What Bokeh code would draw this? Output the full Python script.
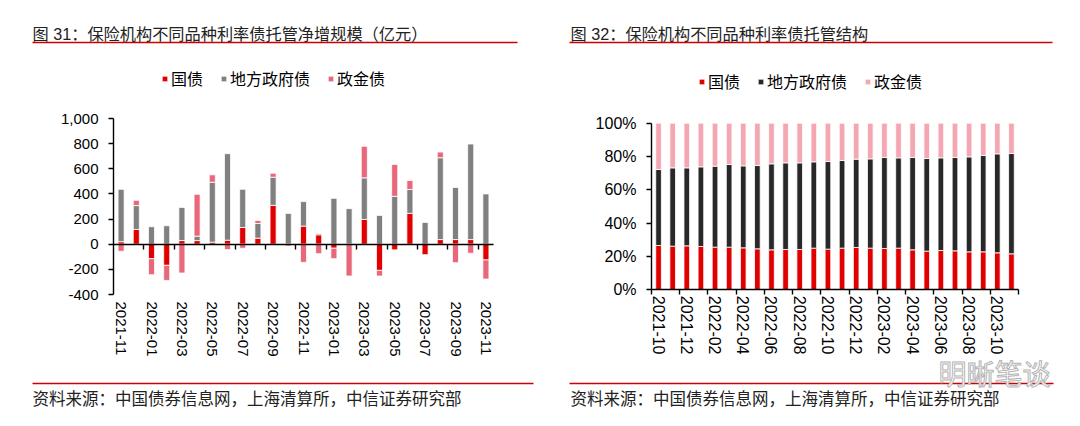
from bokeh.plotting import figure
from bokeh.models import (Range1d, FixedTicker, NumeralTickFormatter, LinearAxis, Label,
                          BoxAnnotation, Legend, LegendItem, ColumnDataSource)
from bokeh.layouts import row
from bokeh.embed import file_html
from bokeh.resources import INLINE

FONT = "Liberation Sans, Noto Sans CJK SC"

# ---------------- data: chart 31 (亿元) ----------------
left_months = ["2021-11", "2021-12", "2022-01", "2022-02", "2022-03", "2022-04", "2022-05",
               "2022-06", "2022-07", "2022-08", "2022-09", "2022-10", "2022-11", "2022-12",
               "2023-01", "2023-02", "2023-03", "2023-04", "2023-05", "2023-06", "2023-07",
               "2023-08", "2023-09", "2023-10", "2023-11"]
net_gov = [20, 117, -115, -168, 29, 29, 16, 32, 133, 48, 309, 0, 144, 75, -32, 0, 197, -208,
           -45, 245, -83, 37, 37, 37, -125]
net_local = [417, 190, 139, 147, 264, 35, 477, 688, 304, 117, 224, 245, 195, 10, 365, 283, 331,
             229, 381, 190, 176, 651, 414, 760, 400]
net_policy = [-56, 42, -128, -120, -229, 333, 59, -43, -32, 24, 32, -15, -144, -75, -83, -253,
              251, -45, 254, 72, 0, 45, -147, -72, -152]
left_ticks = [-400, -200, 0, 200, 400, 600, 800, 1000]

# ---------------- data: chart 32 (%) ----------------
right_months = ["2021-10", "2021-11", "2021-12", "2022-01", "2022-02", "2022-03", "2022-04",
                "2022-05", "2022-06", "2022-07", "2022-08", "2022-09", "2022-10", "2022-11",
                "2022-12", "2023-01", "2023-02", "2023-03", "2023-04", "2023-05", "2023-06",
                "2023-07", "2023-08", "2023-09", "2023-10", "2023-11"]
share_gov = [26.6, 26.2, 26.4, 26.0, 25.6, 25.6, 25.2, 24.6, 24.0, 24.2, 24.2, 25.0, 24.4, 25.0,
             25.4, 25.0, 24.8, 25.0, 24.0, 23.2, 23.6, 23.4, 22.8, 22.8, 22.2, 21.6]
share_local = [45.6, 47.0, 46.8, 47.8, 48.6, 49.6, 49.2, 50.0, 51.6, 52.0, 52.0, 51.8, 52.6, 52.6,
               53.0, 53.6, 54.6, 54.2, 55.4, 55.6, 55.6, 56.0, 57.0, 57.8, 59.4, 60.2]
share_policy = [27.8, 26.8, 26.8, 26.2, 25.8, 24.8, 25.6, 25.4, 24.4, 23.8, 23.8, 23.2, 23.0, 22.4,
                21.6, 21.4, 20.6, 20.8, 20.6, 21.2, 20.8, 20.6, 20.2, 19.4, 18.4, 18.2]
right_ticks = [0, 0.2, 0.4, 0.6, 0.8, 1.0]

series_names = ["国债", "地方政府债", "政金债"]
left_colors = ["#E00000", "#808080", "#E8677B"]
right_colors = ["#E00000", "#282828", "#F4A7B2"]

title_left = "图 31：保险机构不同品种利率债托管净增规模（亿元）"
title_right = "图 32：保险机构不同品种利率债托管结构"
source_text = "资料来源：中国债券信息网，上海清算所，中信证券研究部"
watermark = "明晰笔谈"

RED_LINE = "#D00000"
W, H = 540, 410


def make_fig(x_range, y_range):
    p = figure(width=W, height=H, output_backend="svg", toolbar_location=None,
               x_range=x_range, y_range=y_range, x_axis_location=None, y_axis_location=None,
               min_border=0, min_border_left=0, min_border_right=0,
               min_border_top=0, min_border_bottom=0)
    p.outline_line_color = None
    p.grid.visible = False
    p.background_fill_color = "white"
    p.border_fill_color = "white"
    return p


def add_text(p, x, page_y, text, size="16px", color="#222222", align="left", outline=None):
    lab = Label(x=x, y=H - page_y, x_units="screen", y_units="screen", text=text,
                text_font=FONT, text_font_size=size, text_color=color,
                text_baseline="middle", text_align=align)
    if outline is not None:
        lab.text_outline_color = outline
    p.add_layout(lab)


def add_hline(p, left, right, page_y):
    y = H - page_y
    p.add_layout(BoxAnnotation(left=left, right=right, bottom=y - 0.7, top=y + 0.7,
                               left_units="screen", right_units="screen",
                               bottom_units="screen", top_units="screen",
                               fill_color=RED_LINE, fill_alpha=1, line_color=None))


def value_axis(p, loc, ticks, fmt, bounds, size):
    ax = LinearAxis(ticker=FixedTicker(ticks=ticks), formatter=NumeralTickFormatter(format=fmt),
                    fixed_location=loc, bounds=bounds)
    ax.axis_line_color = "black"
    ax.axis_line_width = 1.4
    ax.major_tick_line_color = "black"
    ax.major_tick_line_width = 1.4
    ax.major_tick_out = 5
    ax.major_tick_in = 0
    ax.minor_tick_line_color = None
    ax.major_label_standoff = 10
    ax.major_label_text_font = FONT
    ax.major_label_text_font_size = size
    ax.major_label_text_color = "black"
    p.add_layout(ax, "left")


def label_axis(p, loc, ticks, labels, standoff, size):
    ax = LinearAxis(ticker=FixedTicker(ticks=ticks), fixed_location=loc,
                    major_label_overrides={t: labels[t] for t in ticks})
    ax.axis_line_color = None
    ax.major_tick_line_color = None
    ax.minor_tick_line_color = None
    ax.major_tick_out = 0
    ax.major_tick_in = 0
    ax.major_label_standoff = standoff
    ax.major_label_orientation = "vertical"
    ax.major_label_text_font = FONT
    ax.major_label_text_font_size = size
    ax.major_label_text_color = "black"
    p.add_layout(ax, "below")


def tick_axis(p, loc, ticks, bounds):
    ax = LinearAxis(ticker=FixedTicker(ticks=ticks), fixed_location=loc, bounds=bounds)
    ax.axis_line_color = "black"
    ax.axis_line_width = 1.4
    ax.major_tick_line_color = "black"
    ax.major_tick_line_width = 1.4
    ax.major_tick_out = 5
    ax.major_tick_in = 0
    ax.minor_tick_line_color = None
    ax.major_label_text_color = None
    p.add_layout(ax, "below")


def stack_pos_neg(series_list):
    n = len(series_list[0])
    pos = [0.0] * n
    neg = [0.0] * n
    out = []
    for s in series_list:
        bottoms, tops = [], []
        for i, v in enumerate(s):
            if v >= 0:
                b = pos[i]; t = b + v; pos[i] = t
            else:
                b = neg[i]; t = b + v; neg[i] = t
            bottoms.append(b); tops.append(t)
        out.append((bottoms, tops))
    return out


def legend(p, rends, x, page_bottom, size, spacing):
    lg = Legend(items=[LegendItem(label=n, renderers=[r]) for n, r in zip(series_names, rends)],
                orientation="horizontal", location=(x, H - page_bottom),
                glyph_width=7, glyph_height=7, label_height=16, label_standoff=3,
                spacing=spacing, padding=0, margin=0, border_line_color=None,
                background_fill_alpha=0, label_text_font=FONT, label_text_font_size=size,
                label_text_color="black")
    p.add_layout(lg)


# ================= left figure (page x 0..540, y 0..410) =================
n1 = len(left_months)
PX1 = 380 / n1                    # pixels per category
X0_1 = 113                        # page x of category edge -0.5
YTOP_1, YBOT_1 = 118, 294         # page y of 1000 and -400
upp1 = 1400 / (YBOT_1 - YTOP_1)
p1 = make_fig(Range1d(-0.5 - X0_1 / PX1, -0.5 + (W - X0_1) / PX1),
              Range1d(-400 - (H - YBOT_1) * upp1, 1000 + YTOP_1 * upp1))

xs1 = list(range(n1))
rends1 = []
for (bot, top), col in zip(stack_pos_neg([net_gov, net_local, net_policy]), left_colors):
    src = ColumnDataSource(dict(x=xs1, bottom=bot, top=top))
    rends1.append(p1.vbar(x="x", bottom="bottom", top="top", width=0.4, source=src,
                          fill_color=col, line_color="white", line_width=0.8))

value_axis(p1, -0.5, left_ticks, "0,0", (-400, 1000), "15px")
label_axis(p1, -400, xs1[::2], left_months, 7, "15px")
tick_axis(p1, 0, [i + 1.5 for i in range(0, n1 - 2, 2)], (-0.5, n1 - 0.5))
legend(p1, rends1, 161, 90, "16px", 17)

add_text(p1, 32, 33, title_left, size="16.2px")
add_hline(p1, 32, 517, 42)
add_hline(p1, 32, 533, 383)
add_text(p1, 32, 398, source_text, size="16.5px")

# ================= right figure (page x 540..1080) =================
n2 = len(right_months)
PX2 = 367 / n2
X0_2 = 651 - 540
YTOP_2, YBOT_2 = 122.7, 289.3
upp2 = 1.0 / (YBOT_2 - YTOP_2)
p2 = make_fig(Range1d(-0.5 - X0_2 / PX2, -0.5 + (W - X0_2) / PX2),
              Range1d(-(H - YBOT_2) * upp2, 1 + YTOP_2 * upp2))

xs2 = list(range(n2))
src2 = ColumnDataSource(dict(x=xs2,
                             gov=[v / 100 for v in share_gov],
                             local=[v / 100 for v in share_local],
                             policy=[v / 100 for v in share_policy]))
rends2 = p2.vbar_stack(["gov", "local", "policy"], x="x", width=0.4, source=src2,
                       fill_color=right_colors, line_color="white", line_width=0.8)

value_axis(p2, -0.5, right_ticks, "0%", (0, 1), "16px")
label_axis(p2, 0, xs2[::2][:13], right_months, 6, "16px")
tick_axis(p2, 0, [i - 0.5 for i in range(0, n2 + 1, 2)], (-0.5, n2 - 0.5))
legend(p2, rends2, 158, 93, "16px", 17)

add_text(p2, 30, 33, title_right, size="16.2px")
add_hline(p2, 29, 512, 42)
add_hline(p2, 29, 513, 383)
add_text(p2, 30, 398, source_text, size="16.5px")
add_text(p2, 398, 375, watermark, size="28px", color="white", outline="#B4B4B4")

layout = row(p1, p2)
open("out.html", "w").write(file_html(layout, INLINE))
